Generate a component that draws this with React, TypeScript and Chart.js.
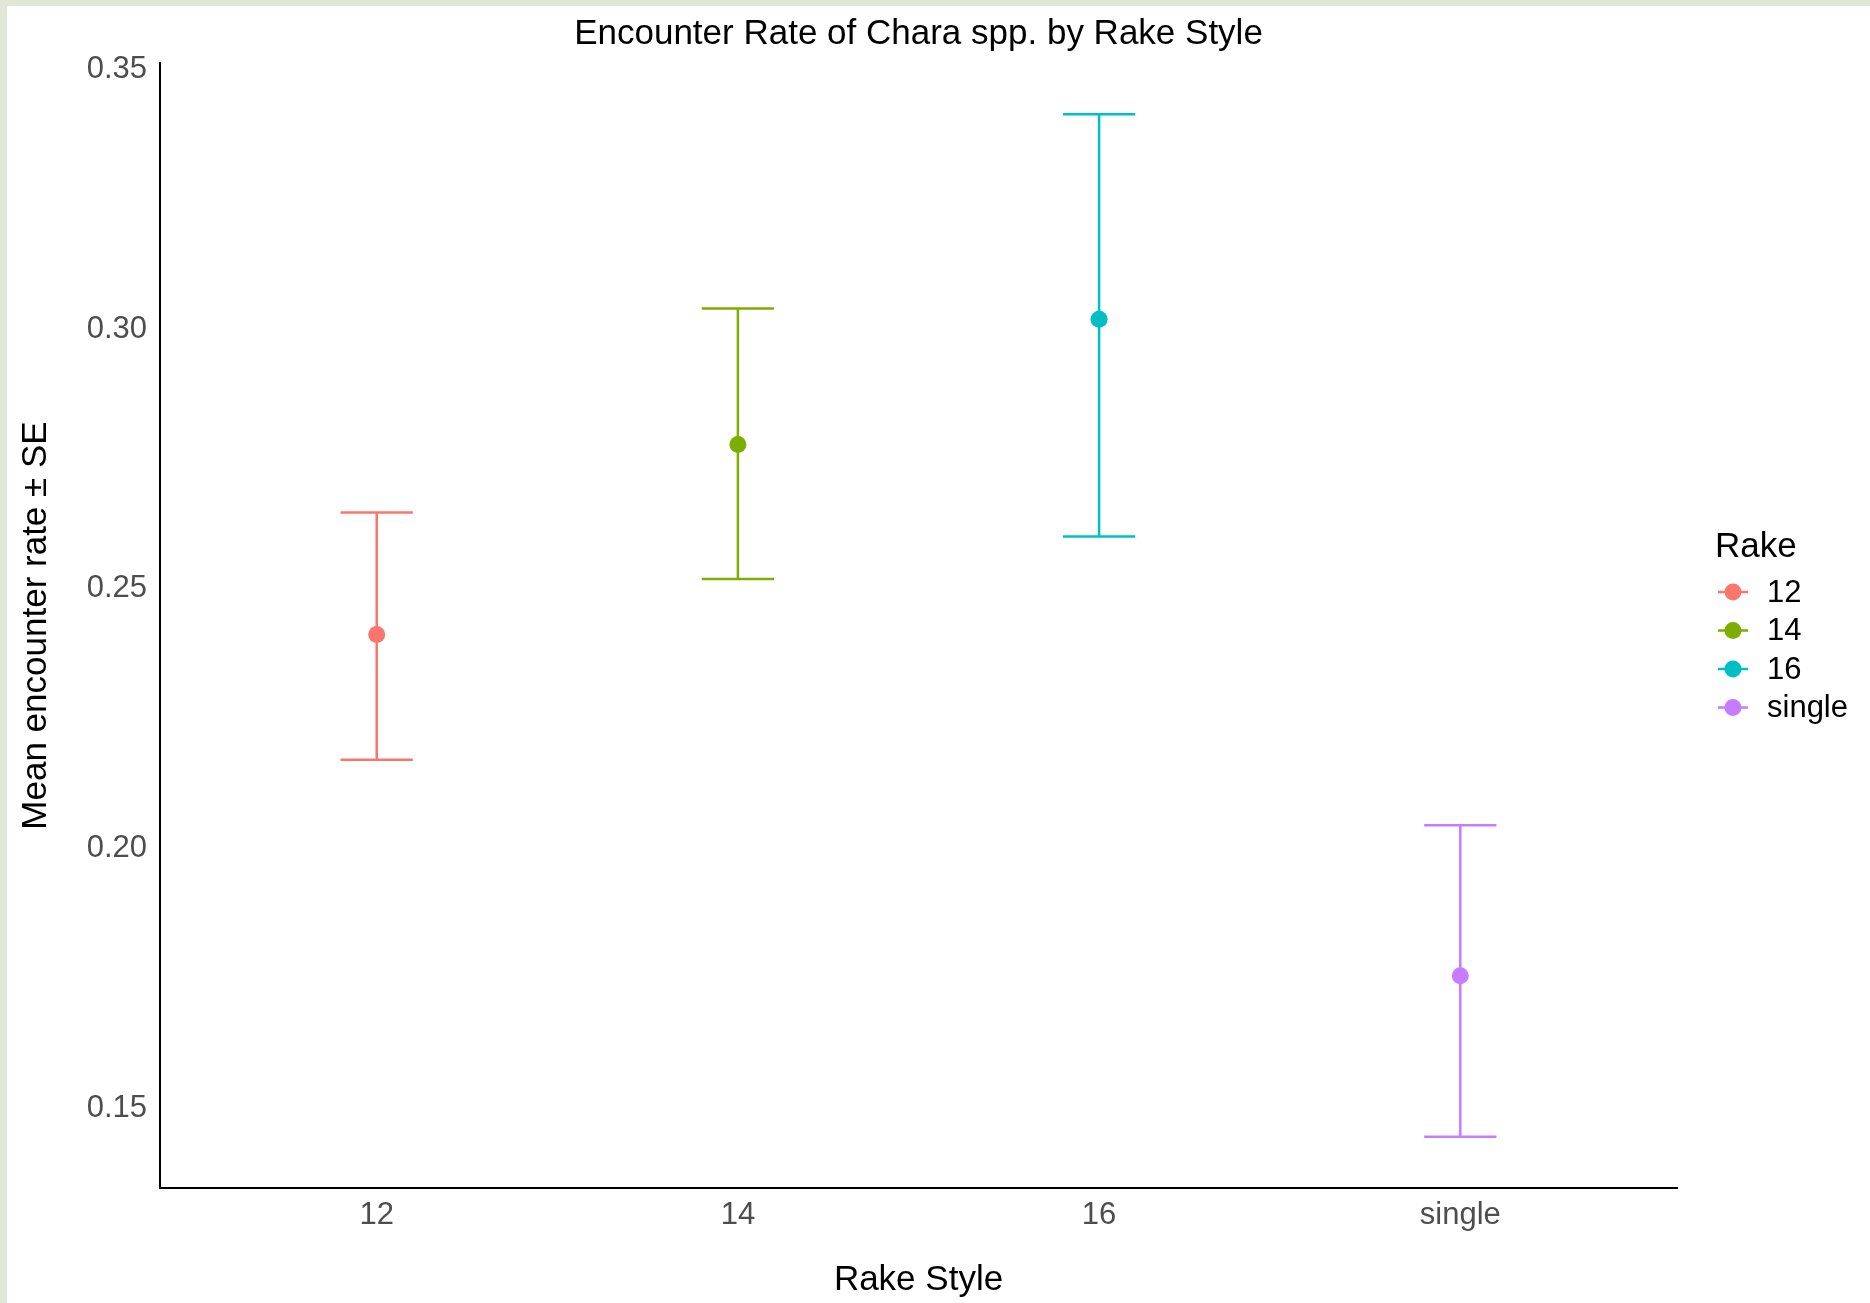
import React, { useEffect, useRef } from "react";
import { Chart, registerables } from "chart.js";

Chart.register(...registerables);

const categories = ["12", "14", "16", "single"];
const means = [0.2409, 0.2775, 0.3016, 0.1752];
const upper = [0.2644, 0.3037, 0.3411, 0.2042];
const lower = [0.2168, 0.2516, 0.2598, 0.1442];
const colors = ["#F8766D", "#7CAE00", "#00BFC4", "#C77CFF"];
const yTicks = [0.15, 0.2, 0.25, 0.3, 0.35];

const chartTitle = "Encounter Rate of Chara spp. by Rake Style";
const xTitle = "Rake Style";
const yTitle = "Mean encounter rate \u00b1 SE";
const legendTitle = "Rake";

const FONT = "'Liberation Sans', Arial, sans-serif";
const W = 1870;
const H = 1303;
const CAP_HALF = 0.1;

export default function App() {
  const ref = useRef<HTMLCanvasElement | null>(null);

  useEffect(() => {
    if (!ref.current) return;
    const lo = Math.min(...lower);
    const hi = Math.max(...upper);
    const rng = hi - lo;
    const yMin = lo - 0.05 * rng;
    const yMax = hi + 0.05 * rng;

    const datasets: any[] = [];
    categories.forEach((c, i) => {
      datasets.push({
        label: c,
        data: [{ x: i, y: means[i] }],
        backgroundColor: colors[i],
        borderWidth: 0,
        pointRadius: 8.5,
        order: 0,
      });
      const segs = [
        [{ x: i, y: lower[i] }, { x: i, y: upper[i] }],
        [{ x: i - CAP_HALF, y: upper[i] }, { x: i + CAP_HALF, y: upper[i] }],
        [{ x: i - CAP_HALF, y: lower[i] }, { x: i + CAP_HALF, y: lower[i] }],
      ];
      segs.forEach((s) => {
        datasets.push({
          label: c + "-eb",
          data: s,
          showLine: true,
          borderColor: colors[i],
          borderWidth: 2.5,
          borderCapStyle: "butt",
          pointRadius: 0,
          order: 1,
        });
      });
    });

    const decor = {
      id: "decor",
      beforeDraw(chart: any) {
        const ctx = chart.ctx;
        ctx.save();
        ctx.fillStyle = "#dfe7d6";
        ctx.fillRect(0, 0, W, H);
        ctx.fillStyle = "#ffffff";
        ctx.fillRect(7, 6, W - 7, H - 6);
        ctx.restore();
      },
      afterDraw(chart: any) {
        const ctx = chart.ctx;
        const a = chart.chartArea;
        ctx.save();
        ctx.fillStyle = "#000000";
        ctx.textBaseline = "middle";
        ctx.textAlign = "center";
        ctx.font = `35px ${FONT}`;
        ctx.fillText(chartTitle, (a.left + a.right) / 2, 34.5);
        ctx.fillText(xTitle, (a.left + a.right) / 2, 1280.5);
        ctx.save();
        ctx.translate(36, (a.top + a.bottom) / 2);
        ctx.rotate(-Math.PI / 2);
        ctx.fillText(yTitle, 0, 0);
        ctx.restore();

        // legend
        ctx.textAlign = "left";
        ctx.font = `35px ${FONT}`;
        ctx.fillText(legendTitle, 1715, 547);
        const rowY = [592, 630.5, 669, 707.5];
        ctx.font = `31px ${FONT}`;
        categories.forEach((c, i) => {
          const y = rowY[i];
          ctx.strokeStyle = colors[i];
          ctx.lineWidth = 2.5;
          ctx.beginPath();
          ctx.moveTo(1718, y);
          ctx.lineTo(1748, y);
          ctx.stroke();
          ctx.fillStyle = colors[i];
          ctx.beginPath();
          ctx.arc(1733, y, 8.5, 0, Math.PI * 2);
          ctx.fill();
          ctx.fillStyle = "#000000";
          ctx.fillText(c, 1767, y + 1);
        });
        ctx.restore();
      },
    };

    const chart = new Chart(ref.current, {
      type: "scatter",
      data: { datasets },
      options: {
        responsive: false,
        animation: false,
        devicePixelRatio: 1,
        layout: { padding: { top: 63, right: 193, left: 0, bottom: 0 } },
        plugins: {
          legend: { display: false },
          tooltip: { enabled: false },
          title: { display: false },
        },
        scales: {
          x: {
            type: "linear",
            min: -0.6,
            max: 3.6,
            grid: { display: false, drawTicks: false },
            border: { display: true, color: "#000000", width: 2 },
            afterBuildTicks: (s: any) => {
              s.ticks = categories.map((_, i) => ({ value: i }));
            },
            afterFit: (s: any) => {
              s.height = 115;
            },
            ticks: {
              autoSkip: false,
              maxRotation: 0,
              padding: 8.5,
              color: "#4d4d4d",
              font: { family: FONT, size: 31 },
              callback: (v: any) => categories[Math.round(Number(v))] ?? "",
            },
          },
          y: {
            type: "linear",
            min: yMin,
            max: yMax,
            grid: { display: false, drawTicks: false },
            border: { display: true, color: "#000000", width: 2 },
            afterBuildTicks: (s: any) => {
              s.ticks = yTicks.map((v) => ({ value: v }));
            },
            afterFit: (s: any) => {
              s.width = 160;
            },
            ticks: {
              padding: 13,
              labelOffset: 1.5,
              color: "#4d4d4d",
              font: { family: FONT, size: 31 },
              callback: (v: any) => Number(v).toFixed(2),
            },
          },
        },
      },
      plugins: [decor],
    });
    return () => chart.destroy();
  }, []);

  return (
    <div style={{ position: "fixed", left: 0, top: 0, width: W, height: H }}>
      <canvas ref={ref} width={W} height={H} style={{ width: W, height: H, display: "block" }} />
    </div>
  );
}
